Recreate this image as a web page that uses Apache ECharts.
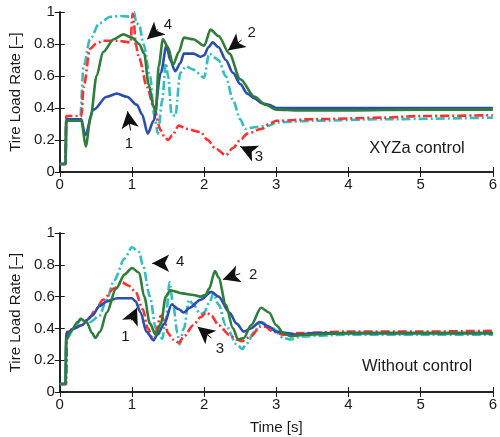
<!DOCTYPE html>
<html><head><meta charset="utf-8">
<script src="https://cdn.jsdelivr.net/npm/echarts@6/dist/echarts.min.js"></script>
<style>html,body{margin:0;padding:0;background:#fff}#c{width:500px;height:437px}</style>
</head><body><div id="c"></div>
<script>
// ---------- data ----------
const xTicks = [0,1,2,3,4,5,6];
const yTicks = [0,0.2,0.4,0.6,0.8,1];
const seriesNames = ['1','2','3','4'];

// Top panel (XYZa control)
const topT1 = [0,0.08,0.09,0.3,0.35,0.47,0.65,0.79,0.93,1.07,1.14,1.22,1.3,1.4,1.48,1.53,1.6,1.67,1.72,1.85,1.95,2.0,2.06,2.12,2.2,2.3,2.4,2.5,2.6,2.7,2.8,2.9,3.0,3.2,4,5,6];
const topV1 = [0.05,0.05,0.33,0.33,0.23,0.39,0.47,0.49,0.47,0.42,0.36,0.24,0.32,0.62,0.79,0.7,0.63,0.68,0.74,0.74,0.72,0.73,0.78,0.81,0.78,0.7,0.62,0.55,0.49,0.46,0.43,0.42,0.40,0.40,0.40,0.40,0.40];
const topT2 = [0,0.08,0.09,0.3,0.36,0.43,0.51,0.6,0.75,0.88,1.0,1.1,1.17,1.23,1.3,1.33,1.37,1.43,1.5,1.57,1.65,1.72,1.85,2.0,2.09,2.2,2.35,2.5,2.7,2.85,3.0,3.3,4,5,6];
const topV2 = [0.05,0.05,0.32,0.32,0.16,0.35,0.6,0.75,0.83,0.86,0.84,0.8,0.74,0.55,0.41,0.37,0.66,0.83,0.78,0.67,0.75,0.84,0.83,0.79,0.89,0.85,0.74,0.58,0.47,0.42,0.39,0.385,0.385,0.39,0.39];
const topT3 = [0,0.08,0.09,0.3,0.33,0.42,0.5,0.6,0.8,0.98,1.01,1.03,1.05,1.1,1.21,1.3,1.4,1.45,1.5,1.56,1.65,1.75,1.95,2.05,2.15,2.3,2.4,2.5,2.6,2.8,2.9,3.0,3.5,4.5,5,6];
const topV3 = [0.05,0.05,0.35,0.35,0.53,0.77,0.8,0.82,0.82,0.81,0.99,0.92,0.8,0.71,0.53,0.41,0.26,0.22,0.2,0.23,0.29,0.27,0.25,0.2,0.15,0.105,0.15,0.2,0.24,0.27,0.3,0.32,0.33,0.34,0.35,0.355];
const topT4 = [0,0.08,0.09,0.28,0.33,0.42,0.55,0.7,0.85,1.0,1.03,1.06,1.1,1.16,1.25,1.31,1.36,1.42,1.47,1.5,1.55,1.6,1.67,1.75,1.85,2.0,2.07,2.2,2.3,2.4,2.5,2.57,2.7,2.9,3.0,3.5,4.5,6];
const topV4 = [0.05,0.05,0.32,0.32,0.66,0.83,0.93,0.97,0.975,0.97,1.0,0.93,0.92,0.8,0.6,0.35,0.24,0.45,0.68,0.6,0.36,0.35,0.62,0.66,0.64,0.59,0.74,0.7,0.6,0.45,0.33,0.27,0.28,0.29,0.31,0.32,0.33,0.34];

// Bottom panel (Without control)
const botT1 = [0,0.08,0.09,0.2,0.3,0.45,0.55,0.65,0.8,1.0,1.05,1.12,1.2,1.3,1.35,1.45,1.55,1.65,1.72,1.8,1.95,2.1,2.2,2.35,2.45,2.55,2.65,2.77,2.9,3.0,3.15,3.3,3.5,4,5,6];
const botV1 = [0.05,0.05,0.37,0.4,0.42,0.48,0.54,0.57,0.59,0.59,0.57,0.5,0.38,0.325,0.36,0.43,0.55,0.52,0.5,0.53,0.58,0.63,0.6,0.5,0.43,0.38,0.4,0.44,0.41,0.38,0.37,0.36,0.37,0.37,0.37,0.37];
const botT2 = [0,0.08,0.09,0.15,0.25,0.29,0.37,0.45,0.49,0.56,0.65,0.78,0.9,1.0,1.1,1.17,1.25,1.33,1.4,1.47,1.53,1.7,1.85,1.95,2.02,2.07,2.15,2.2,2.3,2.4,2.47,2.55,2.65,2.79,2.9,3.0,3.1,3.2,3.4,4,5,6];
const botV2 = [0.05,0.05,0.33,0.38,0.44,0.46,0.44,0.37,0.34,0.38,0.5,0.65,0.74,0.78,0.75,0.6,0.43,0.36,0.43,0.6,0.64,0.62,0.61,0.6,0.61,0.65,0.76,0.72,0.55,0.4,0.33,0.34,0.42,0.53,0.5,0.42,0.37,0.35,0.36,0.37,0.37,0.37];
const botT3 = [0,0.09,0.1,0.2,0.3,0.4,0.5,0.6,0.75,0.86,0.95,1.05,1.15,1.22,1.28,1.33,1.4,1.45,1.5,1.57,1.65,1.72,1.85,1.95,2.03,2.1,2.2,2.35,2.45,2.52,2.65,2.77,2.85,2.95,3.1,3.3,4,5,6];
const botV3 = [0.05,0.05,0.38,0.4,0.42,0.46,0.52,0.58,0.65,0.69,0.67,0.63,0.52,0.4,0.35,0.38,0.48,0.45,0.37,0.33,0.31,0.35,0.42,0.47,0.5,0.48,0.42,0.36,0.33,0.32,0.35,0.41,0.41,0.38,0.36,0.37,0.38,0.38,0.385];
const botT4 = [0,0.08,0.09,0.2,0.3,0.42,0.55,0.65,0.75,0.9,1.0,1.1,1.15,1.25,1.33,1.42,1.47,1.52,1.57,1.63,1.66,1.72,1.79,1.85,1.95,2.0,2.07,2.13,2.2,2.3,2.45,2.53,2.58,2.7,2.79,2.95,3.1,3.2,3.35,4,5,6];
const botV4 = [0.05,0.05,0.33,0.4,0.46,0.44,0.48,0.58,0.7,0.84,0.91,0.88,0.8,0.6,0.4,0.335,0.45,0.69,0.55,0.37,0.3,0.4,0.58,0.55,0.49,0.5,0.56,0.62,0.55,0.42,0.3,0.27,0.3,0.38,0.44,0.4,0.34,0.33,0.35,0.36,0.36,0.36];

// Annotation arrows: [tailX, tailY, tipX, tipY, labelX, labelY, text]
const topArrows = [
  [1.36,0.89,1.21,0.83,1.5,0.92,'4'],
  [2.52,0.825,2.33,0.76,2.66,0.87,'2'],
  [0.98,0.26,0.94,0.38,0.96,0.175,'1'],
  [2.63,0.133,2.5,0.16,2.76,0.096,'3']
];
const botArrows = [
  [1.46,0.81,1.28,0.81,1.67,0.82,'4'],
  [2.5,0.745,2.26,0.707,2.68,0.734,'2'],
  [0.99,0.45,1.07,0.53,0.91,0.346,'1'],
  [2.1,0.34,1.91,0.41,2.22,0.27,'3']
];
const panelTitles = ['XYZa control','Without control'];
const yName = 'Tire Load Rate [\u2013]';
const xName = 'Time [s]';

// ---------- chart ----------
const colors = ['#2a4db0','#2f7d3a','#ff3030','#33bdbd'];
const lineTypes = ['solid','solid',[9,3,2,3],[9,3,2,3]];
const FONT = 'Liberation Sans, Arial, sans-serif';
const INK = '#1a1a1a';

const grids = [
  {left:59, right:6, top:12, height:160},
  {left:59, right:6, top:233, height:159}
];
const xAxes = [], yAxes = [];
const axisLineStyle = {show:true, lineStyle:{color:INK, width:1.6}};
const tickStyle = {show:true, inside:true, length:5, lineStyle:{color:INK, width:1}};
grids.forEach((g,i)=>{
  xAxes.push({gridIndex:i, type:'value', min:0, max:6, interval:1, position:'bottom',
    axisLine:axisLineStyle, axisTick:tickStyle, splitLine:{show:false},
    axisLabel:{color:INK, fontSize:15, fontFamily:FONT, margin:5},
    name: i===1 ? xName : '', nameLocation:'middle', nameGap:28,
    nameTextStyle:{color:INK, fontSize:15, fontFamily:FONT}});
  xAxes.push({gridIndex:i, type:'value', min:0, max:6, interval:1, position:'top',
    axisLine:axisLineStyle, axisTick:tickStyle, splitLine:{show:false}, axisLabel:{show:false}});
  yAxes.push({gridIndex:i, type:'value', min:0, max:1, interval:0.2, position:'left',
    axisLine:axisLineStyle, axisTick:tickStyle, splitLine:{show:false},
    axisLabel:{color:INK, fontSize:15, fontFamily:FONT, margin:5},
    name:yName, nameLocation:'middle', nameGap:31, nameRotate:90,
    nameTextStyle:{color:INK, fontSize:15, fontFamily:FONT}});
  yAxes.push({gridIndex:i, type:'value', min:0, max:1, interval:0.2, position:'right',
    axisLine:axisLineStyle, axisTick:tickStyle, splitLine:{show:false}, axisLabel:{show:false}});
});

function zip(t,v){ return t.map((x,i)=>[x,v[i]]); }
const panels = [
  [[topT1,topV1],[topT2,topV2],[topT3,topV3],[topT4,topV4]],
  [[botT1,botV1],[botT2,botV2],[botT3,botV3],[botT4,botV4]]
];
const series = [];
panels.forEach((p,pi)=>{
  p.forEach((d,si)=>{
    series.push({type:'line', name:seriesNames[si], xAxisIndex:pi*2, yAxisIndex:pi*2,
      data:zip(d[0],d[1]), showSymbol:false, smooth:0.3, smoothMonotone:'x',
      lineStyle:{color:colors[si], width:2.6, type:lineTypes[si]}, z: 4-si+ (si===1?2:0),
      animation:false});
  });
});
// annotations (arrows + labels + panel titles) on helper series
[topArrows, botArrows].forEach((arr,pi)=>{
  series.push({type:'line', xAxisIndex:pi*2, yAxisIndex:pi*2, data:[], animation:false, z:10,
    markLine:{silent:true, animation:false, symbol:['none','arrow'], symbolSize:[13,17],
      label:{show:false},
      lineStyle:{color:'#111', width:1, type:'solid'},
      data: arr.map(a=>[{coord:[a[0],a[1]]},{coord:[a[2],a[3]]}])},
    markPoint:{silent:true, animation:false, symbol:'circle', symbolSize:1,
      itemStyle:{color:'rgba(0,0,0,0)'},
      label:{show:true, position:'inside', color:INK, fontSize:15, fontFamily:FONT,
        formatter:p=>p.name},
      data: arr.map(a=>({name:a[6], coord:[a[4],a[5]]})).concat([
        {name:panelTitles[pi], coord:[4.95, pi===0?0.15:0.16], label:{fontSize:16.5}}])}
  });
});

const chart = echarts.init(document.getElementById('c'), null, {renderer:'canvas'});
chart.setOption({animation:false, backgroundColor:'#fff', grid:grids, xAxis:xAxes, yAxis:yAxes, series:series});
</script></body></html>
